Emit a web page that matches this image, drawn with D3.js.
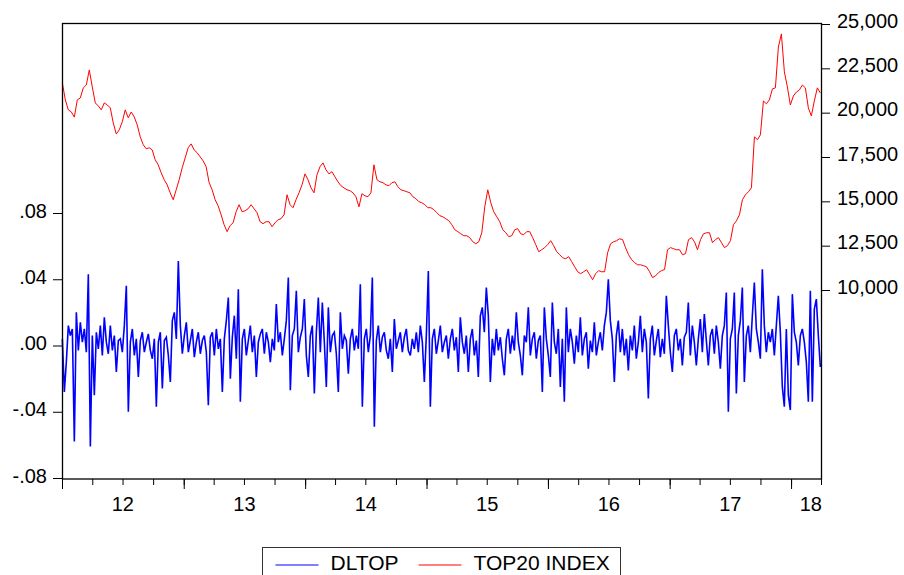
<!DOCTYPE html>
<html>
<head>
<meta charset="utf-8">
<script src="https://cdn.jsdelivr.net/npm/d3@7"></script>
<style>
    body { margin: 0; background: #fff; }
    svg text { font-family: "Liberation Sans", Arial, sans-serif; fill: #000; }
</style>
</head>
<body>
<div id="chart"></div>
<script>
// TOP20 index level (right axis), evenly spaced in time
var top20Index = [
    21680, 20720, 20160, 20040, 19750, 20720, 20830, 21400, 21560, 22410,
    21450, 20550, 20380, 20160, 20550, 20440, 20270, 19420, 18800, 19030,
    19480, 20160, 19710, 20040, 19760, 19310, 18640, 18190, 17960, 18020,
    17900, 17340, 17060, 16610, 16220, 15930, 15480, 15090, 15650, 16220,
    16890, 17450, 18020, 18240, 17900, 17740, 17510, 17280, 16950, 16050,
    15650, 15090, 14750, 14240, 13680, 13290, 13630, 13790, 14410, 14810,
    14410, 14470, 14580, 14810, 14580, 14360, 13850, 13740, 13850, 13850,
    13570, 13790, 13960, 14020, 14240, 15370, 14810, 14640, 15090, 15480,
    15930, 16550, 16220, 15760, 15480, 16500, 16950, 17170, 16780, 16550,
    16670, 16380, 16100, 15880, 15760, 15650, 15600, 15480, 15260, 14690,
    15430, 15310, 15260, 15480, 17060, 16220, 16100, 16050, 15930, 15880,
    16050, 16100, 15820, 15650, 15600, 15540, 15480, 15260, 15150, 14980,
    14920, 14810, 14640, 14640, 14530, 14360, 14190, 14130, 14020, 13910,
    13680, 13400, 13290, 13170, 13060, 13060, 12950, 12720, 12610, 12720,
    13230, 14690, 15650, 14920, 14410, 14130, 13850, 13400, 13230, 13010,
    13060, 13400, 13460, 13170, 13120, 13290, 13290, 12950, 12560, 12160,
    12270, 12390, 12560, 12780, 12500, 12160, 11990, 11820, 11760, 11880,
    11600, 11310, 11030, 10920, 11030, 11140, 10860, 10580, 10920, 11090,
    11030, 11030, 12100, 12610, 12720, 12780, 12890, 12840, 12380, 11990,
    11710, 11540, 11420, 11420, 11370, 11310, 11030, 10700, 10800, 10980,
    11090, 11150, 12270, 12390, 12330, 12270, 12270, 11990, 12050, 12840,
    12950, 12720, 12270, 12840, 13170, 13230, 13230, 12670, 12840, 12950,
    12670, 12390, 12500, 12780, 13680, 13900, 14240, 15090, 15370, 15540,
    15760, 18640, 18470, 18750, 20660, 20500, 20720, 21340, 21400, 23700,
    24440, 22300, 21450, 20430, 20940, 21160, 21280, 21560, 21400, 20270,
    19820, 20660, 21400, 21110
];

// DLTOP log returns (left axis), evenly spaced in time
var dltop = [
    .004, -.028, -.010, .012, .006, .010, -.058, .020, -.003, .014,
    .002, .010, -.004, .043, -.061, .006, -.030, .008, -.002, .012,
    -.006, .017, .002, -.005, .012, -.003, .006, -.016, .003, .004,
    -.004, .012, .036, -.040, .002, .010, -.006, .004, -.019, .003,
    .008, -.004, .002, .007, -.003, -.008, .004, -.037, .002, .008,
    -.026, .003, .005, -.006, -.022, .015, .020, .004, .051, .012,
    -.005, .006, .014, -.004, .003, .010, -.007, .002, .008, -.005,
    .003, .006, -.004, -.036, .005, .008, -.006, .010, -.002, .004,
    -.028, .004, .015, .029, -.020, .005, .018, -.008, .034, -.034,
    .004, .010, -.006, .003, .012, -.004, .006, -.019, .002, .007,
    .010, -.005, .008, .002, -.010, .004, -.003, .025, .002, .008,
    -.006, .004, .015, .041, -.027, .006, .010, .033, -.004, .005,
    .010, .028, -.006, -.019, .006, .012, -.029, .008, .029, -.004,
    .026, .002, -.025, .023, -.004, .006, .008, -.005, -.028, .020,
    -.002, .006, .003, -.017, .004, .010, -.003, .006, -.002, .037,
    -.037, .004, .010, -.004, .006, .041, -.049, .003, .012, -.004,
    .005, .008, -.003, -.008, .004, -.016, .016, -.002, .003, .008,
    -.004, .005, .010, -.003, -.006, .004, -.002, .008, -.004, .012,
    .002, -.022, .006, .045, -.037, .004, .010, -.005, .003, .012,
    -.004, .002, .006, -.008, .004, .010, -.003, .005, -.016, .017,
    .002, -.005, .006, -.016, .004, .010, -.006, .003, -.019, .018,
    .023, .008, .035, .018, -.022, .004, -.006, .010, -.003, .005,
    -.008, -.018, .004, .010, -.005, .006, -.003, .020, .002, -.006,
    -.018, .006, .002, .023, -.006, .004, .008, -.008, .003, .006,
    -.028, .023, .004, -.006, -.019, .026, .002, -.005, .010, -.025,
    .004, -.034, .023, -.004, .010, .002, -.011, .006, -.004, .017,
    -.006, .004, .008, -.014, .003, -.004, .014, -.006, .002, .008,
    -.003, .012, .020, .040, .015, .004, -.022, .006, .015, -.004,
    .010, -.006, .004, -.015, .006, -.003, .012, -.008, .002, .018,
    -.004, .010, .002, -.032, .004, .012, -.006, .003, .010, -.007,
    .004, -.005, .030, .012, -.004, -.016, .006, .010, -.003, .004,
    -.012, .005, .008, .026, -.006, .012, .002, -.012, .004, .016,
    -.004, .019, .003, -.012, .006, .010, -.005, .012, .002, -.014,
    .006, .012, .032, -.040, .004, .010, .032, -.029, .006, .015,
    .035, -.022, .006, .012, -.004, .018, .038, .010, .002, -.008,
    .046, .012, -.004, .008, .002, .010, -.006, .012, .030, .008,
    -.025, -.037, .010, -.030, -.039, .031, .008, .002, -.012, .006,
    .010, .002, -.010, -.034, .033, -.034, .022, .028, .006, -.013
];

var seriesNames = ["DLTOP", "TOP20 INDEX"];
var leftTicks = [-0.08, -0.04, 0, 0.04, 0.08];
var rightTicks = [10000, 12500, 15000, 17500, 20000, 22500, 25000];
var yearLabels = ["12", "13", "14", "15", "16", "17", "18"];

var firstObs = new Date(2012, 0, 2),
    lastObs = new Date(2018, 2, 30);

var width = 904,
    height = 575,
    plot = { left: 62, right: 821, top: 24, bottom: 479 };

var svg = d3.select("#chart")
    .append("svg")
    .attr("width", width)
    .attr("height", height);

var x = d3.scaleTime()
    .domain([new Date(2012, 0, 1), new Date(2018, 3, 1)])
    .range([plot.left, plot.right]);

// left scale: .08 and -.08 ticks; the top of the frame is beyond .08
var yLeft = d3.scaleLinear().domain([-0.08, 0.08]).range([478, 213]);
var yRight = d3.scaleLinear().domain([10000, 25000]).range([290, plot.top]);

// spread observations evenly between first and last date
function obsDate(i, n) {
    return new Date(+firstObs + i * (lastObs - firstObs) / (n - 1));
}

//x axis: quarter ticks short, year ticks long
var quarters = d3.timeMonth.every(3).range(new Date(2012, 0, 1), new Date(2018, 3, 2));
var years = d3.timeYear.range(new Date(2012, 0, 1), new Date(2018, 3, 2));

var xMinor = svg.append("g")
    .attr("transform", "translate(0," + plot.bottom + ")")
    .call(d3.axisBottom(x).tickValues(quarters).tickSize(6).tickFormat(""));
var xMajor = svg.append("g")
    .attr("transform", "translate(0," + plot.bottom + ")")
    .call(d3.axisBottom(x).tickValues(years).tickSize(10).tickFormat(""));
[xMinor, xMajor].forEach(function (g) {
    g.select(".domain").remove();
    g.selectAll("line").attr("stroke", "#000");
});

//year labels centred in the visible part of each year
var xEnd = x.domain()[1];
svg.append("g").selectAll("text")
    .data(years)
    .enter()
    .append("text")
    .attr("font-size", 20)
    .attr("y", 511)
    .attr("x", function (d) {
        var next = d3.timeYear.offset(d, 1);
        if (next > xEnd) return plot.right + 1;
        return (x(d) + x(next)) / 2;
    })
    .attr("text-anchor", function (d) {
        return d3.timeYear.offset(d, 1) > xEnd ? "end" : "middle";
    })
    .text(function (d, i) { return yearLabels[i]; });

//plain hyphen for the minus sign, as in the original
var locale = d3.formatLocale({
    decimal: ".", thousands: ",", grouping: [3], currency: ["", ""], minus: "-"
});

//left axis
var fmtLeft = function (d) {
    return locale.format(".2f")(d).replace("0.", ".");
};
var leftAxis = svg.append("g")
    .attr("transform", "translate(" + plot.left + ",0)")
    .call(d3.axisLeft(yLeft).tickValues(leftTicks).tickSize(9).tickPadding(6).tickFormat(fmtLeft));
leftAxis.select(".domain").remove();
leftAxis.selectAll("line").attr("stroke", "#000");
leftAxis.selectAll("text")
    .attr("font-size", 20)
    .attr("font-family", null)
    .attr("dy", "0.2em");

//right axis
var rightAxis = svg.append("g")
    .attr("transform", "translate(" + plot.right + ",0)")
    .call(d3.axisRight(yRight).tickValues(rightTicks).tickSize(9).tickPadding(7).tickFormat(locale.format(",")));
rightAxis.select(".domain").remove();
rightAxis.selectAll("line").attr("stroke", "#000");
rightAxis.selectAll("text")
    .attr("font-size", 20)
    .attr("font-family", null)
    .attr("dy", "0.15em");

//series lines
var lineLeft = d3.line()
    .x(function (d, i) { return x(obsDate(i, dltop.length)); })
    .y(function (d) { return yLeft(d); });

var lineRight = d3.line()
    .x(function (d, i) { return x(obsDate(i, top20Index.length)); })
    .y(function (d) { return yRight(d); });

svg.append("path")
    .datum(dltop)
    .attr("fill", "none")
    .attr("stroke", "#0000ff")
    .attr("stroke-width", 1.6)
    .attr("d", lineLeft);

svg.append("path")
    .datum(top20Index)
    .attr("fill", "none")
    .attr("stroke", "#ff0000")
    .attr("stroke-width", 1)
    .attr("d", lineRight);

//frame
svg.append("rect")
    .attr("x", plot.left + 0.5)
    .attr("y", plot.top - 0.5)
    .attr("width", plot.right - plot.left)
    .attr("height", plot.bottom - plot.top + 0.5)
    .attr("fill", "none")
    .attr("stroke", "#000")
    .attr("stroke-width", 1.3);

//legend
var legend = svg.append("g").attr("transform", "translate(262.5,547.5)");
legend.append("rect")
    .attr("width", 358)
    .attr("height", 40)
    .attr("fill", "#fff")
    .attr("stroke", "#333");

var legendItems = [
    { name: seriesNames[0], color: "#0000ff", x: 13 },
    { name: seriesNames[1], color: "#ff0000", x: 156 }
];
legendItems.forEach(function (item) {
    legend.append("line")
        .attr("x1", item.x)
        .attr("x2", item.x + 43)
        .attr("y1", 17.5)
        .attr("y2", 17.5)
        .attr("stroke", item.color)
        .attr("stroke-width", 1.2);
    legend.append("text")
        .attr("x", item.x + 55)
        .attr("y", 22.5)
        .attr("font-size", 21)
        .text(item.name);
});
</script>
</body>
</html>
